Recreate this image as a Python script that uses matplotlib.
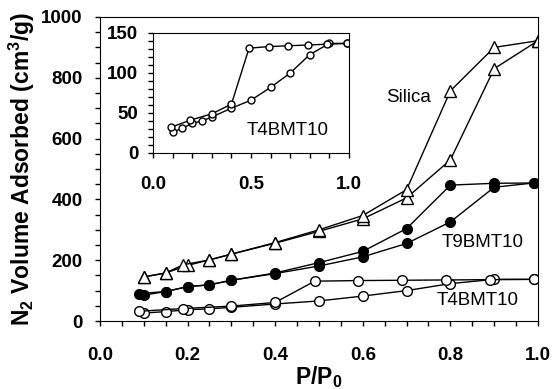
import matplotlib
matplotlib.use('Agg')
import matplotlib.pyplot as plt
from matplotlib.ticker import MultipleLocator

plt.rcParams['font.family'] = ['Liberation Sans', 'DejaVu Sans']
plt.rcParams['mathtext.default'] = 'regular'

# Silica isotherm
silica_ads_x = [0.10, 0.15, 0.20, 0.25, 0.30, 0.40, 0.50, 0.60, 0.70, 0.80, 0.90, 1.00]
silica_ads_y = [145, 158, 183, 201, 220, 256, 295, 336, 405, 530, 830, 922]
silica_des_x = [1.00, 0.90, 0.80, 0.70, 0.60, 0.50, 0.40, 0.30, 0.25, 0.19, 0.15, 0.10]
silica_des_y = [922, 900, 757, 432, 347, 300, 258, 220, 201, 185, 158, 145]

# T9BMT10 isotherm
t9_ads_x = [0.10, 0.15, 0.20, 0.25, 0.30, 0.40, 0.50, 0.60, 0.70, 0.80, 0.90, 0.99]
t9_ads_y = [85, 97, 113, 119, 134, 156, 181, 211, 255, 326, 440, 454]
t9_des_x = [0.99, 0.90, 0.80, 0.70, 0.60, 0.50, 0.40, 0.30, 0.25, 0.20, 0.15, 0.09]
t9_des_y = [454, 453, 447, 304, 229, 192, 158, 134, 119, 113, 97, 90]

# T4BMT10 isotherm
t4_ads_x = [0.10, 0.15, 0.20, 0.25, 0.30, 0.40, 0.50, 0.60, 0.70, 0.80, 0.90, 0.99]
t4_ads_y = [26, 31, 37, 40, 45, 56, 66, 82, 100, 123, 137, 137]
t4_des_x = [0.99, 0.89, 0.79, 0.69, 0.59, 0.49, 0.40, 0.30, 0.19, 0.09]
t4_des_y = [137, 136, 135, 134, 133, 131, 61, 49, 41, 32]

TICK_FS = 13.5
LABEL_FS = 16.5

fig = plt.figure(figsize=(5.54, 3.89), dpi=100)
ax = fig.add_axes([0.1805, 0.1748, 0.7906, 0.7815])

line_kw = dict(color='black', linewidth=1.0)
tri = dict(marker='^', markersize=8, markerfacecolor='white', markeredgecolor='black', markeredgewidth=1.0)
dot = dict(marker='o', markersize=7, markerfacecolor='black', markeredgecolor='black')
ring = dict(marker='o', markersize=7, markerfacecolor='white', markeredgecolor='black', markeredgewidth=1.0)

ax.plot(silica_ads_x, silica_ads_y, **line_kw, **tri)
ax.plot(silica_des_x, silica_des_y, **line_kw, **tri)
ax.plot(t9_ads_x, t9_ads_y, **line_kw, **dot)
ax.plot(t9_des_x, t9_des_y, **line_kw, **dot)
ax.plot(t4_ads_x, t4_ads_y, **line_kw, **ring)
ax.plot(t4_des_x, t4_des_y, **line_kw, **ring)

ax.set_xlim(0, 1.0)
ax.set_ylim(0, 1000)
ax.xaxis.set_major_locator(MultipleLocator(0.2))
ax.xaxis.set_minor_locator(MultipleLocator(0.05))
ax.yaxis.set_major_locator(MultipleLocator(200))
ax.yaxis.set_minor_locator(MultipleLocator(50))
ax.xaxis.set_major_formatter(plt.FormatStrFormatter('%.1f'))
ax.tick_params(which='both', direction='out', length=3.5, width=1, labelsize=TICK_FS)
ax.tick_params(axis='x', which='major', pad=15)
ax.tick_params(axis='y', which='major', pad=9)
for lab in ax.get_xticklabels() + ax.get_yticklabels():
    lab.set_fontweight('bold')

ax.set_xlabel('P/P$_0$', fontsize=LABEL_FS, fontweight='bold', labelpad=0.5)
ax.set_ylabel('N$_2$ Volume Adsorbed (cm$^3$/g)', fontsize=LABEL_FS, fontweight='bold', labelpad=3)

ax.text(0.653, 0.72, 'Silica', transform=ax.transAxes, fontsize=TICK_FS)
ax.text(0.781, 0.243, 'T9BMT10', transform=ax.transAxes, fontsize=TICK_FS)
ax.text(0.769, 0.053, 'T4BMT10', transform=ax.transAxes, fontsize=TICK_FS)

# inset: T4BMT10 close-up
ins = fig.add_axes([0.2762, 0.6067, 0.3538, 0.3085])
ins_ring = dict(ring, markersize=5)
ins.plot(t4_ads_x, t4_ads_y, **line_kw, **ins_ring)
ins.plot(t4_des_x, t4_des_y, **line_kw, **ins_ring)
ins.set_xlim(0, 1.0)
ins.set_ylim(0, 150)
ins.xaxis.set_major_locator(MultipleLocator(0.5))
ins.xaxis.set_minor_locator(MultipleLocator(0.1))
ins.yaxis.set_major_locator(MultipleLocator(50))
ins.yaxis.set_minor_locator(MultipleLocator(10))
ins.xaxis.set_major_formatter(plt.FormatStrFormatter('%.1f'))
ins.tick_params(which='both', direction='out', length=3.5, width=1, labelsize=TICK_FS)
ins.tick_params(axis='x', which='major', pad=13)
ins.tick_params(axis='y', which='major', pad=7)
for lab in ins.get_xticklabels() + ins.get_yticklabels():
    lab.set_fontweight('bold')
ins.text(0.48, 0.15, 'T4BMT10', transform=ins.transAxes, fontsize=TICK_FS)

fig.savefig('out.png', dpi=100)
plt.close(fig)
